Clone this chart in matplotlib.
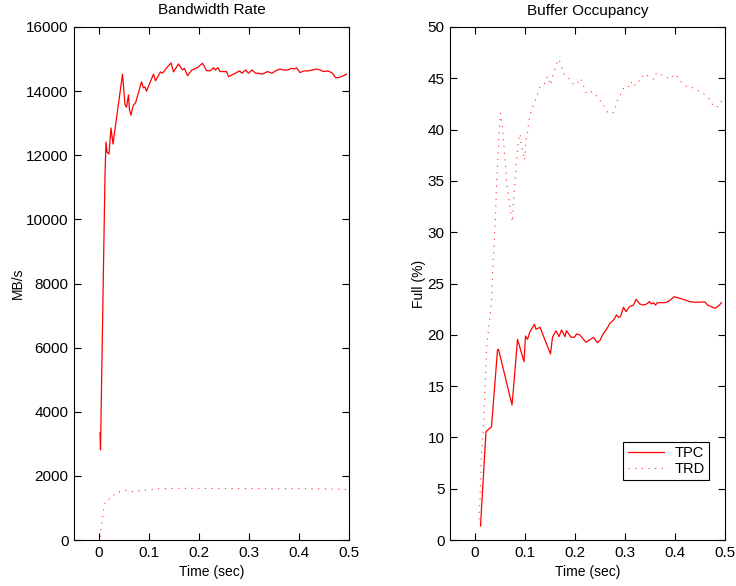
import matplotlib
matplotlib.use("Agg")
import matplotlib.pyplot as plt

plt.rcParams['font.family'] = ['Liberation Sans', 'DejaVu Sans']

# ---- Left panel: Bandwidth Rate ----
bw_tpc_t = [0.002, 0.003, 0.012, 0.014, 0.016, 0.020, 0.024, 0.028, 0.047, 0.052, 0.055,
            0.059, 0.061, 0.064, 0.067, 0.069, 0.073, 0.085, 0.089, 0.092, 0.095, 0.109,
            0.113, 0.123, 0.127, 0.132, 0.144, 0.149, 0.159, 0.167, 0.171, 0.177, 0.186,
            0.194, 0.199, 0.207, 0.215, 0.222, 0.229, 0.233, 0.238, 0.242, 0.255, 0.259,
            0.269, 0.281, 0.286, 0.293, 0.299, 0.306, 0.313, 0.318, 0.327, 0.337, 0.346,
            0.353, 0.362, 0.369, 0.377, 0.385, 0.391, 0.395, 0.402, 0.410, 0.418, 0.427,
            0.435, 0.442, 0.449, 0.458, 0.467, 0.473, 0.479, 0.489, 0.495]
bw_tpc_v = [3340, 2810, 11400, 12414, 12100, 12040, 12850, 12350, 14530, 13570, 13500,
            13880, 13410, 13250, 13470, 13570, 13630, 14290, 14100, 14130, 14000, 14530,
            14320, 14600, 14560, 14660, 14880, 14600, 14850, 14660, 14710, 14480, 14660,
            14710, 14760, 14870, 14640, 14630, 14730, 14660, 14730, 14610, 14610, 14450,
            14530, 14630, 14560, 14660, 14560, 14660, 14560, 14560, 14530, 14610, 14560,
            14630, 14690, 14660, 14660, 14710, 14690, 14730, 14580, 14630, 14630, 14660,
            14690, 14660, 14610, 14630, 14560, 14420, 14420, 14480, 14530]

bw_trd_t = [0.003, 0.004, 0.007, 0.010, 0.014, 0.025, 0.032, 0.045, 0.059, 0.069, 0.082,
            0.099, 0.122, 0.155, 0.182, 0.25, 0.30, 0.35, 0.40, 0.45, 0.495]
bw_trd_v = [100, 312, 686, 1040, 1250, 1300, 1456, 1530, 1550, 1500, 1540,
            1560, 1600, 1610, 1610, 1605, 1605, 1600, 1600, 1595, 1580]

# ---- Right panel: Buffer Occupancy ----
bo_tpc_t = [0.011, 0.022, 0.033, 0.045, 0.047, 0.074, 0.077, 0.085, 0.098, 0.101, 0.105,
            0.110, 0.119, 0.122, 0.130, 0.151, 0.155, 0.162, 0.168, 0.173, 0.180, 0.183,
            0.192, 0.199, 0.203, 0.209, 0.222, 0.237, 0.245, 0.250, 0.255, 0.263, 0.270,
            0.277, 0.283, 0.287, 0.291, 0.297, 0.302, 0.309, 0.317, 0.322, 0.330, 0.337,
            0.343, 0.349, 0.353, 0.357, 0.361, 0.365, 0.370, 0.380, 0.389, 0.398, 0.410,
            0.430, 0.440, 0.460, 0.465, 0.480, 0.487, 0.493]
bo_tpc_v = [1.36, 10.56, 11.04, 18.52, 18.59, 13.16, 14.78, 19.56, 17.38, 19.88, 19.56,
            20.30, 21.02, 20.54, 20.73, 18.13, 19.76, 20.40, 19.82, 20.47, 19.82, 20.40,
            19.76, 19.76, 20.08, 20.01, 19.27, 19.76, 19.23, 19.45, 19.98, 20.54, 21.12,
            21.44, 21.93, 21.70, 21.77, 22.68, 22.25, 22.74, 22.90, 23.46, 23.00, 22.90,
            23.00, 23.23, 23.00, 23.13, 22.90, 23.13, 23.13, 23.13, 23.32, 23.71, 23.56,
            23.23, 23.17, 23.20, 22.90, 22.58, 22.81, 23.13]

bo_trd_t = [0.008, 0.010, 0.013, 0.017, 0.020, 0.023, 0.027, 0.030, 0.033, 0.035, 0.038,
            0.041, 0.043, 0.046, 0.049, 0.051, 0.054, 0.057, 0.060, 0.063, 0.067, 0.070,
            0.075, 0.077, 0.080, 0.083, 0.087, 0.090, 0.093, 0.097, 0.099, 0.102, 0.105,
            0.107, 0.110, 0.115, 0.122, 0.130, 0.137, 0.142, 0.145, 0.147, 0.151, 0.155,
            0.159, 0.163, 0.166, 0.170, 0.173, 0.178, 0.183, 0.190, 0.198, 0.205, 0.210,
            0.214, 0.219, 0.223, 0.231, 0.241, 0.246, 0.254, 0.259, 0.266, 0.273, 0.277,
            0.281, 0.285, 0.291, 0.297, 0.302, 0.307, 0.311, 0.318, 0.323, 0.333, 0.337,
            0.343, 0.351, 0.358, 0.363, 0.370, 0.381, 0.390, 0.398, 0.406, 0.413, 0.423,
            0.430, 0.442, 0.453, 0.463, 0.471, 0.478, 0.483, 0.489, 0.495]
bo_trd_v = [2.0, 3.9, 8.45, 11.04, 14.6, 18.7, 20.5, 21.8, 23.4, 26.0, 28.6,
            31.5, 34.4, 37.4, 40.3, 41.6, 40.6, 39.0, 37.0, 35.1, 33.5, 32.2,
            31.0, 33.1, 34.8, 37.0, 39.0, 39.6, 38.3, 37.7, 37.0, 39.0, 39.6,
            40.6, 41.4, 42.2, 43.0, 44.2, 44.35, 44.7, 45.2, 44.9, 44.35, 45.1,
            45.8, 46.3, 46.85, 46.6, 46.1, 45.4, 45.2, 44.9, 44.35, 44.5, 45.0,
            44.7, 44.0, 43.5, 43.7, 43.5, 42.95, 42.7, 42.2, 41.6, 41.65, 41.65,
            42.2, 42.9, 43.4, 44.0, 43.9, 44.2, 44.7, 44.2, 44.7, 44.8, 45.4,
            45.3, 45.1, 44.9, 45.55, 45.4, 45.2, 44.9, 45.4, 45.1, 44.6, 44.2,
            44.2, 43.9, 43.6, 43.3, 42.8, 42.2, 42.2, 42.4, 42.9]

x_ticks = [0, 0.1, 0.2, 0.3, 0.4, 0.5]
x_tick_labels = ["0", "0.1", "0.2", "0.3", "0.4", "0.5"]
bw_yticks = list(range(0, 16001, 2000))
bo_yticks = list(range(0, 51, 5))

fig = plt.figure(figsize=(7.36, 5.86), dpi=100)
ax1 = fig.add_axes([74/736, 46/586, 275/736, 513/586])
ax2 = fig.add_axes([450/736, 46/586, 275/736, 513/586])

dot_style = (0, (1, 5))

ax1.plot(bw_tpc_t, bw_tpc_v, color='red', lw=0.9)
ax1.plot(bw_trd_t, bw_trd_v, color='#ff3030', lw=0.8, linestyle=dot_style)
ax1.set_xlim(-0.05, 0.5)
ax1.set_ylim(0, 16000)
ax1.set_yticks(bw_yticks)
ax1.set_title("Bandwidth Rate", fontsize=11, pad=9)
ax1.set_ylabel("MB/s", fontsize=10)
ax1.yaxis.set_label_coords(-0.18, 0.5)

ax2.plot(bo_tpc_t, bo_tpc_v, color='red', lw=0.9, label='TPC')
ax2.plot(bo_trd_t, bo_trd_v, color='#ff3030', lw=0.8, linestyle=dot_style, label='TRD')
ax2.set_xlim(-0.05, 0.5)
ax2.set_ylim(0, 50)
ax2.set_yticks(bo_yticks)
ax2.set_title("Buffer Occupancy", fontsize=11, pad=9)
ax2.set_ylabel("Full (%)", fontsize=10)
ax2.yaxis.set_label_coords(-0.087, 0.5)
leg = ax2.legend(loc='lower right', bbox_to_anchor=(0.942, 0.116), fontsize=10.5,
                 frameon=True, fancybox=False, edgecolor='black', framealpha=1,
                 handlelength=2.5, borderpad=0.3, labelspacing=0.15, handletextpad=0.7,
                 borderaxespad=0)
leg.get_frame().set_linewidth(0.8)

for ax in (ax1, ax2):
    ax.set_xticks(x_ticks)
    ax.set_xticklabels(x_tick_labels)
    ax.set_xlabel("Time (sec)", fontsize=10, labelpad=4)
    ax.tick_params(direction='in', top=True, right=True, length=5, width=0.8,
                   labelsize=11, pad=4)
    for s in ax.spines.values():
        s.set_linewidth(0.8)

fig.savefig("out.png", dpi=100)
